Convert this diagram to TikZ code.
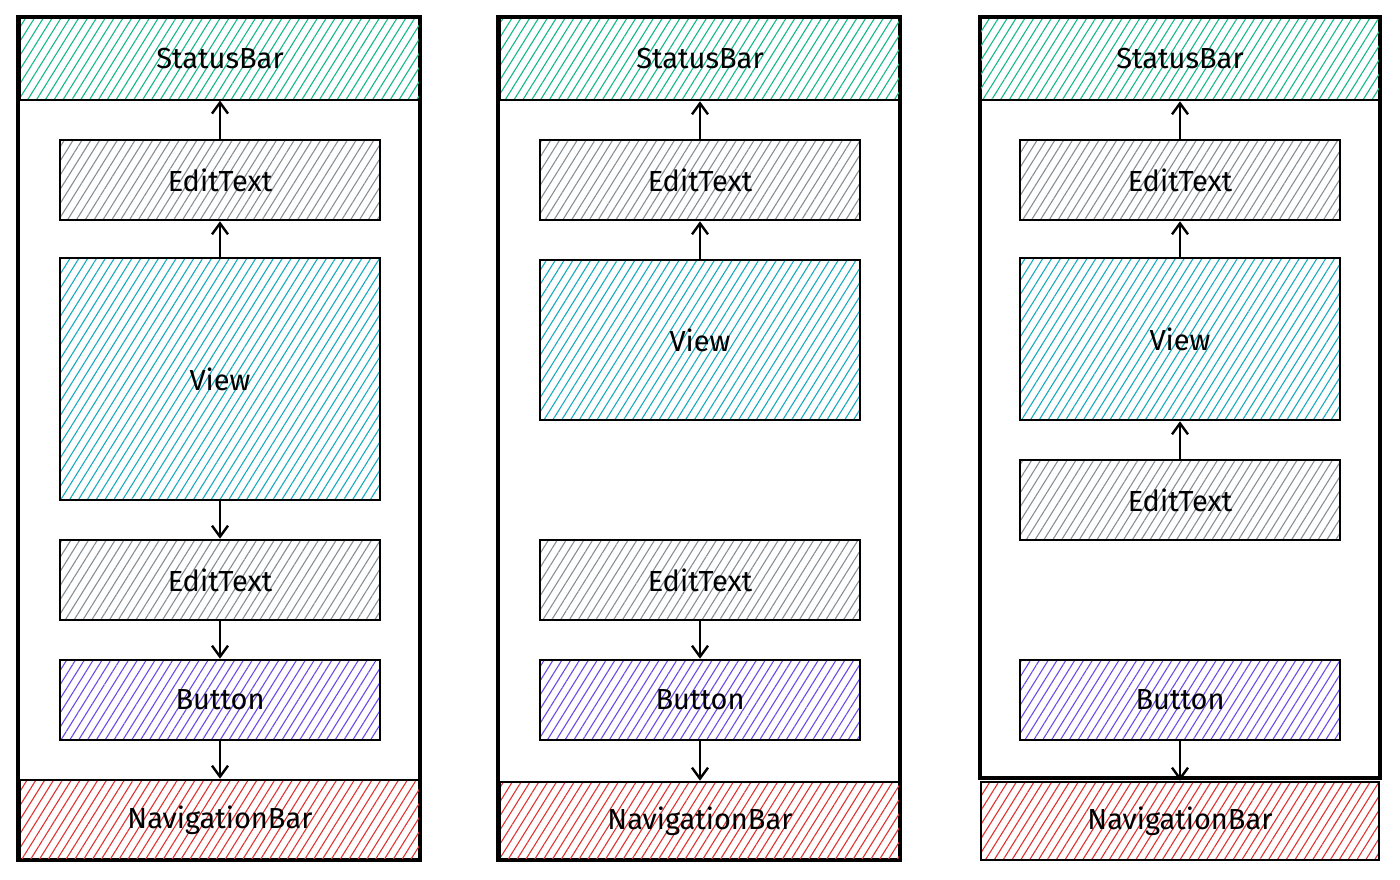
\documentclass[tikz,border=0pt]{standalone}
\usepackage{fontspec}
\setmainfont{Fira Sans}
\usetikzlibrary{patterns.meta,arrows.meta}
\definecolor{cgreen}{HTML}{12B886}
\definecolor{ccyan}{HTML}{15AABF}
\definecolor{cgray}{HTML}{868E96}
\definecolor{cpurple}{HTML}{7048E8}
\definecolor{cred}{HTML}{E03131}
\newcommand{\lbl}{\fontsize{29}{32}\selectfont}
\tikzset{
  box/.style={draw=black, line width=2.6pt, rectangle, inner sep=0pt,
    minimum width=320pt, minimum height=80pt, font=\lbl},
  bar/.style={box, minimum width=400pt, minimum height=82pt},
  frame/.style={draw=black, line width=3.6pt, rectangle, inner sep=0pt},
  hatch/.style={pattern={Lines[angle=58,distance=7.5pt,line width=1.1pt]}},
  hgreen/.style={hatch, pattern color=cgreen},
  hcyan/.style={hatch, pattern color=ccyan},
  hgray/.style={hatch, pattern color=cgray},
  hpurple/.style={hatch, pattern color=cpurple},
  hred/.style={hatch, pattern color=cred},
  conn/.style={draw=black, line width=2.6pt, -{Straight Barb[length=11pt,width=16pt,line width=2.4pt]}}
}
\begin{document}
\begin{tikzpicture}[x=1pt,y=-1pt]
\useasboundingbox (0,0) rectangle (1400,880);
% ---------- column 1 ----------
\node[frame, minimum width=402pt, minimum height=843pt] (f1) at (219,438.5) {};
\node[bar, hgreen] (sb1) at (220,59) {StatusBar};
\node[box, hgray] (et1a) at (220,180) {EditText};
\node[box, hcyan, minimum height=242pt] (v1) at (220,379) {View};
\node[box, hgray] (et1b) at (220,580) {EditText};
\node[box, hpurple] (b1) at (220,700) {Button};
\node[bar, hred, minimum height=80pt] (nb1) at (220,820) {NavigationBar};
\draw[conn] (et1a.north) -- (sb1.south);
\draw[conn] (v1.north) -- (et1a.south);
\draw[conn] (v1.south) -- (et1b.north);
\draw[conn] (et1b.south) -- (b1.north);
\draw[conn] (b1.south) -- (nb1.north);
% ---------- column 2 ----------
\node[frame, minimum width=402pt, minimum height=843pt] (f2) at (699,438.5) {};
\node[bar, hgreen] (sb2) at (700,59) {StatusBar};
\node[box, hgray] (et2a) at (700,180) {EditText};
\node[box, hcyan, minimum height=160pt] (v2) at (700,340) {View};
\node[box, hgray] (et2b) at (700,580) {EditText};
\node[box, hpurple] (b2) at (700,700) {Button};
\node[bar, hred, minimum height=78pt] (nb2) at (700,821) {NavigationBar};
\draw[conn] (et2a.north) -- (sb2.south);
\draw[conn] (v2.north) -- (et2a.south);
\draw[conn] (et2b.south) -- (b2.north);
\draw[conn] (b2.south) -- (nb2.north);
% ---------- column 3 ----------
\node[frame, minimum width=400pt, minimum height=761pt] (f3) at (1180,397.5) {};
\node[bar, hgreen] (sb3) at (1180,59) {StatusBar};
\node[box, hgray] (et3a) at (1180,180) {EditText};
\node[box, hcyan, minimum height=162pt] (v3) at (1180,339) {View};
\node[box, hgray] (et3b) at (1180,500) {EditText};
\node[box, hpurple] (b3) at (1180,700) {Button};
\node[bar, hred, minimum width=398pt, minimum height=78pt] (nb3) at (1180,821) {NavigationBar};
\draw[conn] (et3a.north) -- (sb3.south);
\draw[conn] (v3.north) -- (et3a.south);
\draw[conn] (et3b.north) -- (v3.south);
\draw[conn] (b3.south) -- (nb3.north);
\end{tikzpicture}
\end{document}
